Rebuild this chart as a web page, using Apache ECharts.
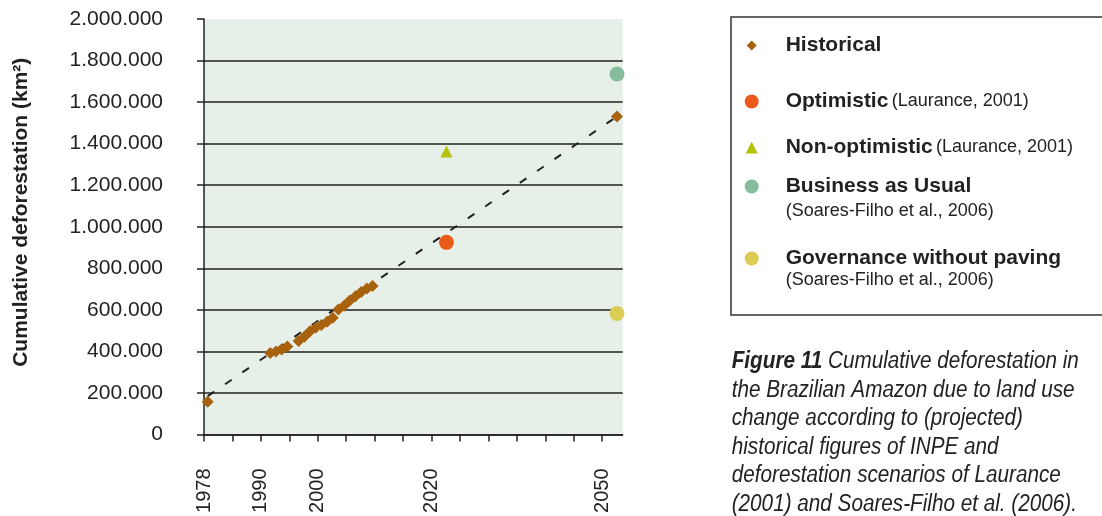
<!DOCTYPE html>
<html lang="en">

<head>
    <meta charset="UTF-8">
    <title>Cumulative deforestation</title>
    <style>
        html, body { margin: 0; padding: 0; background: #fff; }
        #main { width: 1102px; height: 516px; }
    </style>
    <script src="https://cdn.jsdelivr.net/npm/echarts@6.0.0/dist/echarts.min.js"></script>
</head>

<body>
    <div id="main"></div>

    <script>
        // data
        var histYears = [1978, 1989, 1990, 1991, 1992, 1994, 1995, 1996, 1997, 1998, 1999, 2000, 2001, 2002, 2003, 2004, 2005, 2006, 2007, 2050];
        var histValues = [158000, 392000, 399000, 409000, 423000, 450000, 470000, 497000, 514000, 527000, 543000, 562000, 602000, 620000, 645000, 665000, 686000, 703000, 715000, 1531000];
        var trendYears = [1978, 2050];
        var trendValues = [185000, 1531000];
        var optimistic = [2020, 925000];
        var nonOptimistic = [2020, 1362000];
        var businessAsUsual = [2050, 1735000];
        var governance = [2050, 583000];
        // the printed axis has 15 evenly spaced ticks, only some labelled
        var xTickLabels = ['1978', '', '1990', '', '2000', '', '', '', '2020', '', '', '', '', '', '2050'];

        var font = 'Liberation Sans, Arial, sans-serif';
        var ink = '#222';

        function pairs(xs, ys) {
            return xs.map(function (x, i) { return [x, ys[i]]; });
        }

        function dots(v) {
            return String(v).replace(/\B(?=(\d{3})+(?!\d))/g, '.');
        }

        // one legend per entry so each row sits where the figure has it
        function legendItem(name, centerY, size) {
            var pad = 29 - size / 2;
            return {
                data: [name],
                left: 751.7 - size / 2,
                top: centerY - 12,
                padding: 0,
                itemWidth: size,
                itemHeight: size,
                selectedMode: false,
                formatter: function (n) {
                    var parts = n.split(' (');
                    if (parts.length > 1) {
                        return '{b|' + parts[0] + '} {n|(' + parts[1] + '}';
                    }
                    return '{b|' + n + '}';
                },
                textStyle: {
                    rich: {
                        b: { fontFamily: font, fontWeight: 'bold', fontSize: 21, color: ink, lineHeight: 24, padding: [0, 0, 0, pad] },
                        n: { fontFamily: font, fontSize: 18, color: ink, lineHeight: 24 }
                    }
                }
            };
        }

        var chart = echarts.init(document.getElementById('main'));

        var tickIdx = xTickLabels.map(function (_, i) { return i; });

        var option = {
            animation: false,
            grid: {
                left: 204, right: 479.3, top: 19, bottom: 81.5,
                show: true, backgroundColor: '#e6f0e8', borderWidth: 0
            },
            xAxis: [
                {
                    type: 'value',
                    min: 0, max: 14.72, interval: 1,
                    axisLine: { show: true, lineStyle: { color: ink, width: 1.5 } },
                    axisTick: { show: true, length: 7, lineStyle: { color: ink, width: 1.5 }, customValues: tickIdx },
                    axisLabel: {
                        rotate: 90, margin: 34, color: ink, fontFamily: font, fontSize: 20,
                        customValues: tickIdx,
                        formatter: function (v) { return xTickLabels[Math.round(v)] || ''; }
                    },
                    splitLine: { show: false }
                },
                {
                    type: 'value', min: 1977.35, max: 2051, show: false
                }
            ],
            yAxis: {
                type: 'value',
                min: 0, max: 2000000, interval: 200000,
                name: 'Cumulative deforestation (km²)',
                nameLocation: 'middle',
                nameRotate: 90,
                nameGap: 172,
                nameTextStyle: { fontFamily: font, fontWeight: 'bold', fontSize: 21, color: ink, padding: [0, 0, 0, 29] },
                axisLine: { show: true, lineStyle: { color: ink, width: 1.5 } },
                axisTick: { show: true, length: 7, lineStyle: { color: ink, width: 1.5 } },
                axisLabel: { margin: 41, color: ink, fontFamily: font, fontSize: 21, formatter: dots },
                splitLine: { show: true, showMaxLine: false, lineStyle: { color: ink, width: 1.5 } }
            },
            legend: [
                legendItem('Historical', 47, 10),
                legendItem('Optimistic (Laurance, 2001)', 103, 14),
                legendItem('Non-optimistic (Laurance, 2001)', 149, 12),
                legendItem('Business as Usual', 188, 14),
                legendItem('Governance without paving', 260, 14)
            ],
            graphic: [
                {
                    type: 'rect', z: -1,
                    shape: { x: 731, y: 17, width: 420, height: 298 },
                    style: { fill: 'none', stroke: '#333', lineWidth: 1.5 }
                },
                {
                    type: 'text', x: 785.7, y: 211,
                    style: { text: '(Soares-Filho et al., 2006)', font: '18px ' + font, fill: ink, verticalAlign: 'middle' }
                },
                {
                    type: 'text', x: 785.7, y: 280,
                    style: { text: '(Soares-Filho et al., 2006)', font: '18px ' + font, fill: ink, verticalAlign: 'middle' }
                },
                {
                    // caption set in a condensed italic: squeeze Liberation Sans horizontally
                    type: 'text', x: 731.7, y: 347.5, scaleX: 0.9,
                    style: {
                        text: '{b|Figure 11}{t| Cumulative deforestation in}\n' +
                            '{t|the Brazilian Amazon due to land use}\n' +
                            '{t|change according to (projected)}\n' +
                            '{t|historical figures of INPE and}\n' +
                            '{t|deforestation scenarios of Laurance}\n' +
                            '{t|(2001) and Soares-Filho et al. (2006).}',
                        rich: {
                            b: { fontFamily: font, fontStyle: 'italic', fontWeight: 'bold', fontSize: 23, lineHeight: 28.5, fill: ink },
                            t: { fontFamily: font, fontStyle: 'italic', fontSize: 23, lineHeight: 28.5, fill: ink }
                        }
                    }
                }
            ],
            series: [
                {
                    name: 'trend', type: 'line', xAxisIndex: 1, z: 1,
                    data: pairs(trendYears, trendValues),
                    showSymbol: false, silent: true,
                    lineStyle: { color: ink, width: 2, type: [8, 13] }
                },
                {
                    name: 'Historical', type: 'scatter', xAxisIndex: 1, z: 3,
                    symbol: 'diamond', symbolSize: 12,
                    itemStyle: { color: '#a8620e', opacity: 1 },
                    data: pairs(histYears, histValues)
                },
                {
                    name: 'Optimistic (Laurance, 2001)', type: 'scatter', xAxisIndex: 1, z: 3,
                    symbol: 'circle', symbolSize: 15,
                    itemStyle: { color: '#ea5b1a', opacity: 1 },
                    data: [optimistic]
                },
                {
                    name: 'Non-optimistic (Laurance, 2001)', type: 'scatter', xAxisIndex: 1, z: 3,
                    symbol: 'triangle', symbolSize: 12,
                    itemStyle: { color: '#b4c30c', opacity: 1 },
                    data: [nonOptimistic]
                },
                {
                    name: 'Business as Usual', type: 'scatter', xAxisIndex: 1, z: 3,
                    symbol: 'circle', symbolSize: 15,
                    itemStyle: { color: '#86bc9d', opacity: 1 },
                    data: [businessAsUsual]
                },
                {
                    name: 'Governance without paving', type: 'scatter', xAxisIndex: 1, z: 3,
                    symbol: 'circle', symbolSize: 15,
                    itemStyle: { color: '#dccc53', opacity: 1 },
                    data: [governance]
                }
            ]
        };

        chart.setOption(option);
    </script>
</body>

</html>
